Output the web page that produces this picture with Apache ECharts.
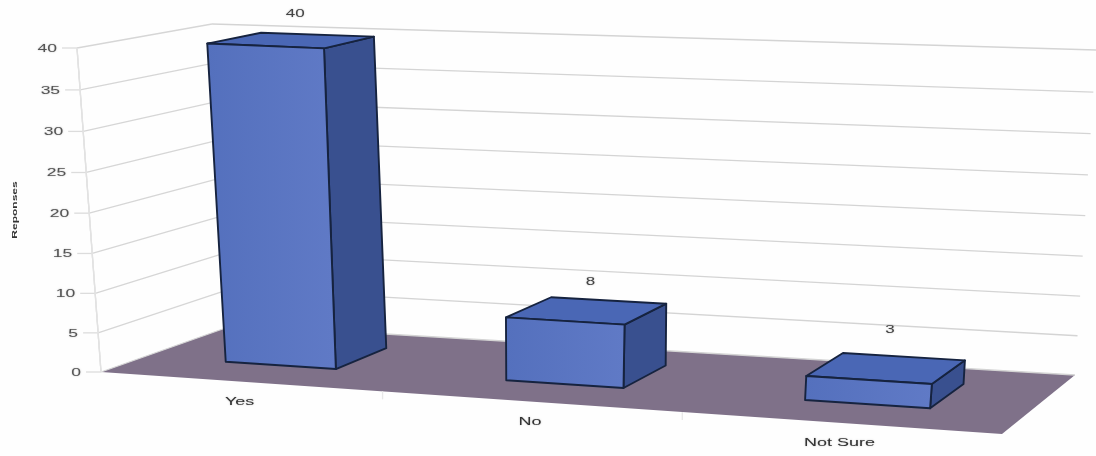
<!DOCTYPE html>
<html><head><meta charset="utf-8">
<style>html,body{margin:0;padding:0;background:#fefefe}#c{width:1096px;height:456px}</style>
<script src="https://cdn.jsdelivr.net/npm/echarts@6/dist/echarts.min.js"></script>
</head><body><div id="c"></div>
<script>
const categories = ['Yes', 'No', 'Not Sure'];
const responses = [40, 8, 3];
const tickValues = [0, 5, 10, 15, 20, 25, 30, 35, 40];
const yTitle = 'Reponses';
const yMax = 40;

// Perspective box: eight screen corners of the 3-D chart space
const FLOOR = { A: [101, 372], B: [1002, 434], C: [1075, 375], D: [234, 325] };
const ROOF  = { A: [77, 48],  B: [1036, 92],  C: [1096, 50],  D: [212, 24] };
const PERSP = 1.1, VPERSP = 1.04, BAR_BAND = 0.4, W0 = 0.33, W1 = 0.75;
const LABEL_LIFT = [26, 28, 38];
const FONT = '"Liberation Sans", Arial, sans-serif';

const mix = (a, b, k) => [a[0] + (b[0] - a[0]) * k, a[1] + (b[1] - a[1]) * k];
function corner(P, s, w) { return mix(mix(P.A, P.B, s), mix(P.D, P.C, s), w); }
// t: 0..1 along categories, v: 0..1 along value axis, w: 0 front .. 1 back
function proj(t, v, w) {
  const s = t / (PERSP + (1 - PERSP) * t);
  const h = v / (VPERSP + (1 - VPERSP) * v);
  return mix(corner(FLOOR, s, w), corner(ROOF, s, w), h);
}
function norm(api, params, catVal, val) {
  const c = api.coord([catVal, val]);
  const g = params.coordSys;
  return { t: (c[0] - g.x) / g.width, v: 1 - (c[1] - g.y) / g.height };
}
const txt = (x, y, text, size, fill, align, sx) => ({
  type: 'text', x, y, scaleX: sx, silent: true,
  style: { x: 0, y: 0, text, fill, align, verticalAlign: 'middle',
    font: size + 'px ' + FONT, textShadowColor: 'rgba(90,90,90,0.5)', textShadowBlur: 1.5 }
});
const poly = (points, fill, z2) => ({
  type: 'polygon', shape: { points }, z2,
  style: { fill, stroke: '#16233f', lineWidth: 1.9, lineJoin: 'round' }
});
const ln = (a, b, color, w) => ({
  type: 'line', shape: { x1: a[0], y1: a[1], x2: b[0], y2: b[1] },
  style: { stroke: color, lineWidth: w || 1.3 }
});

function renderFloor() {
  return { type: 'polygon', shape: { points: [proj(0,0,0), proj(1,0,0), proj(1,0,1), proj(0,0,1)] },
    style: { fill: '#7f7189' } };
}
function renderGrid(params, api) {
  const n = norm(api, params, 0, api.value(0));
  const a = proj(0, n.v, 0), b = proj(0, n.v, 1), c = proj(1, n.v, 1);
  const tickEnd = [a[0] - 15, a[1]];
  return { type: 'group', children: [
    ln(a, b, '#d6d6d6'), ln(b, c, '#d4d4d4'), ln(tickEnd, a, '#dcdcdc'),
    txt(a[0] - 20, a[1] + 1, String(api.value(0)), 10, '#555', 'right', 1.75)
  ] };
}
function renderAxisBase(params, api) {
  const i = api.value(0);
  const g = params.coordSys, t = (api.coord([i, 0])[0] - g.x) / g.width;
  const half = 0.5 / categories.length;
  const kids = [ln(proj(0, 0, 0), proj(0, 1, 0), '#e2e2e2')];
  const e = proj(t + half, 0, 0);
  if (i < categories.length - 1) kids.push(ln(e, [e[0], e[1] + 8], '#e8e8e8'));
  const p = proj(t, 0, 0);
  kids.push(txt(p[0], p[1] + 20.5, categories[i], 10, '#333', 'center', 1.8));
  return { type: 'group', children: kids };
}
function renderBar(params, api) {
  const i = api.value(0), val = api.value(1);
  const n = norm(api, params, i, val);
  const band = api.size([1, 0])[0] / params.coordSys.width;
  const t0 = n.t - band * BAR_BAND / 2, t1 = n.t + band * BAR_BAND / 2;
  const top = n.v;
  const P = (t, v, w) => proj(t, v, w);
  const label = P(n.t, top, (W0 + W1) / 2);
  const grad = { type: 'linear', x: 0, y: 0, x2: 1, y2: 0, colorStops: [
    { offset: 0, color: '#5470bd' }, { offset: 1, color: '#607ac6' }] };
  return { type: 'group', children: [
    poly([P(t1,0,W0), P(t1,0,W1), P(t1,top,W1), P(t1,top,W0)], '#39508f', 2),
    poly([P(t0,top,W0), P(t1,top,W0), P(t1,top,W1), P(t0,top,W1)], '#4a67b5', 3),
    poly([P(t0,0,W0), P(t1,0,W0), P(t1,top,W0), P(t0,top,W0)], grad, 4),
    txt(label[0] + 4, label[1] - LABEL_LIFT[i], String(val), 10, '#444', 'center', 1.7)
  ] };
}

const chart = echarts.init(document.getElementById('c'), null, { renderer: 'canvas' });
chart.setOption({
  animation: false,
  backgroundColor: '#fefefe',
  grid: { left: 0, right: 0, top: 0, bottom: 0 },
  xAxis: { type: 'category', data: categories, show: false },
  yAxis: { type: 'value', min: 0, max: yMax, interval: 5, show: false },
  graphic: [{ type: 'text', x: 15, y: 210, rotation: Math.PI / 2, scaleX: 1.5, scaleY: 1,
    style: { text: yTitle, font: 'bold 8px ' + FONT, fill: '#333', align: 'center', verticalAlign: 'middle' } }],
  series: [
    { type: 'custom', name: 'floor', coordinateSystem: 'cartesian2d', data: [[0]], renderItem: renderFloor, silent: true, z: 1 },
    { type: 'custom', name: 'walls', coordinateSystem: 'cartesian2d', data: tickValues.map(v => [v]), encode: { y: 0 }, renderItem: renderGrid, silent: true, z: 2 },
    { type: 'custom', name: 'categories', coordinateSystem: 'cartesian2d', data: categories.map((c, i) => [i]), encode: { x: 0 }, renderItem: renderAxisBase, silent: true, z: 3 },
    { type: 'custom', name: 'Responses', coordinateSystem: 'cartesian2d', data: responses.map((v, i) => [i, v]), encode: { x: 0, y: 1 }, renderItem: renderBar, silent: true, z: 4 }
  ]
});
</script></body></html>
